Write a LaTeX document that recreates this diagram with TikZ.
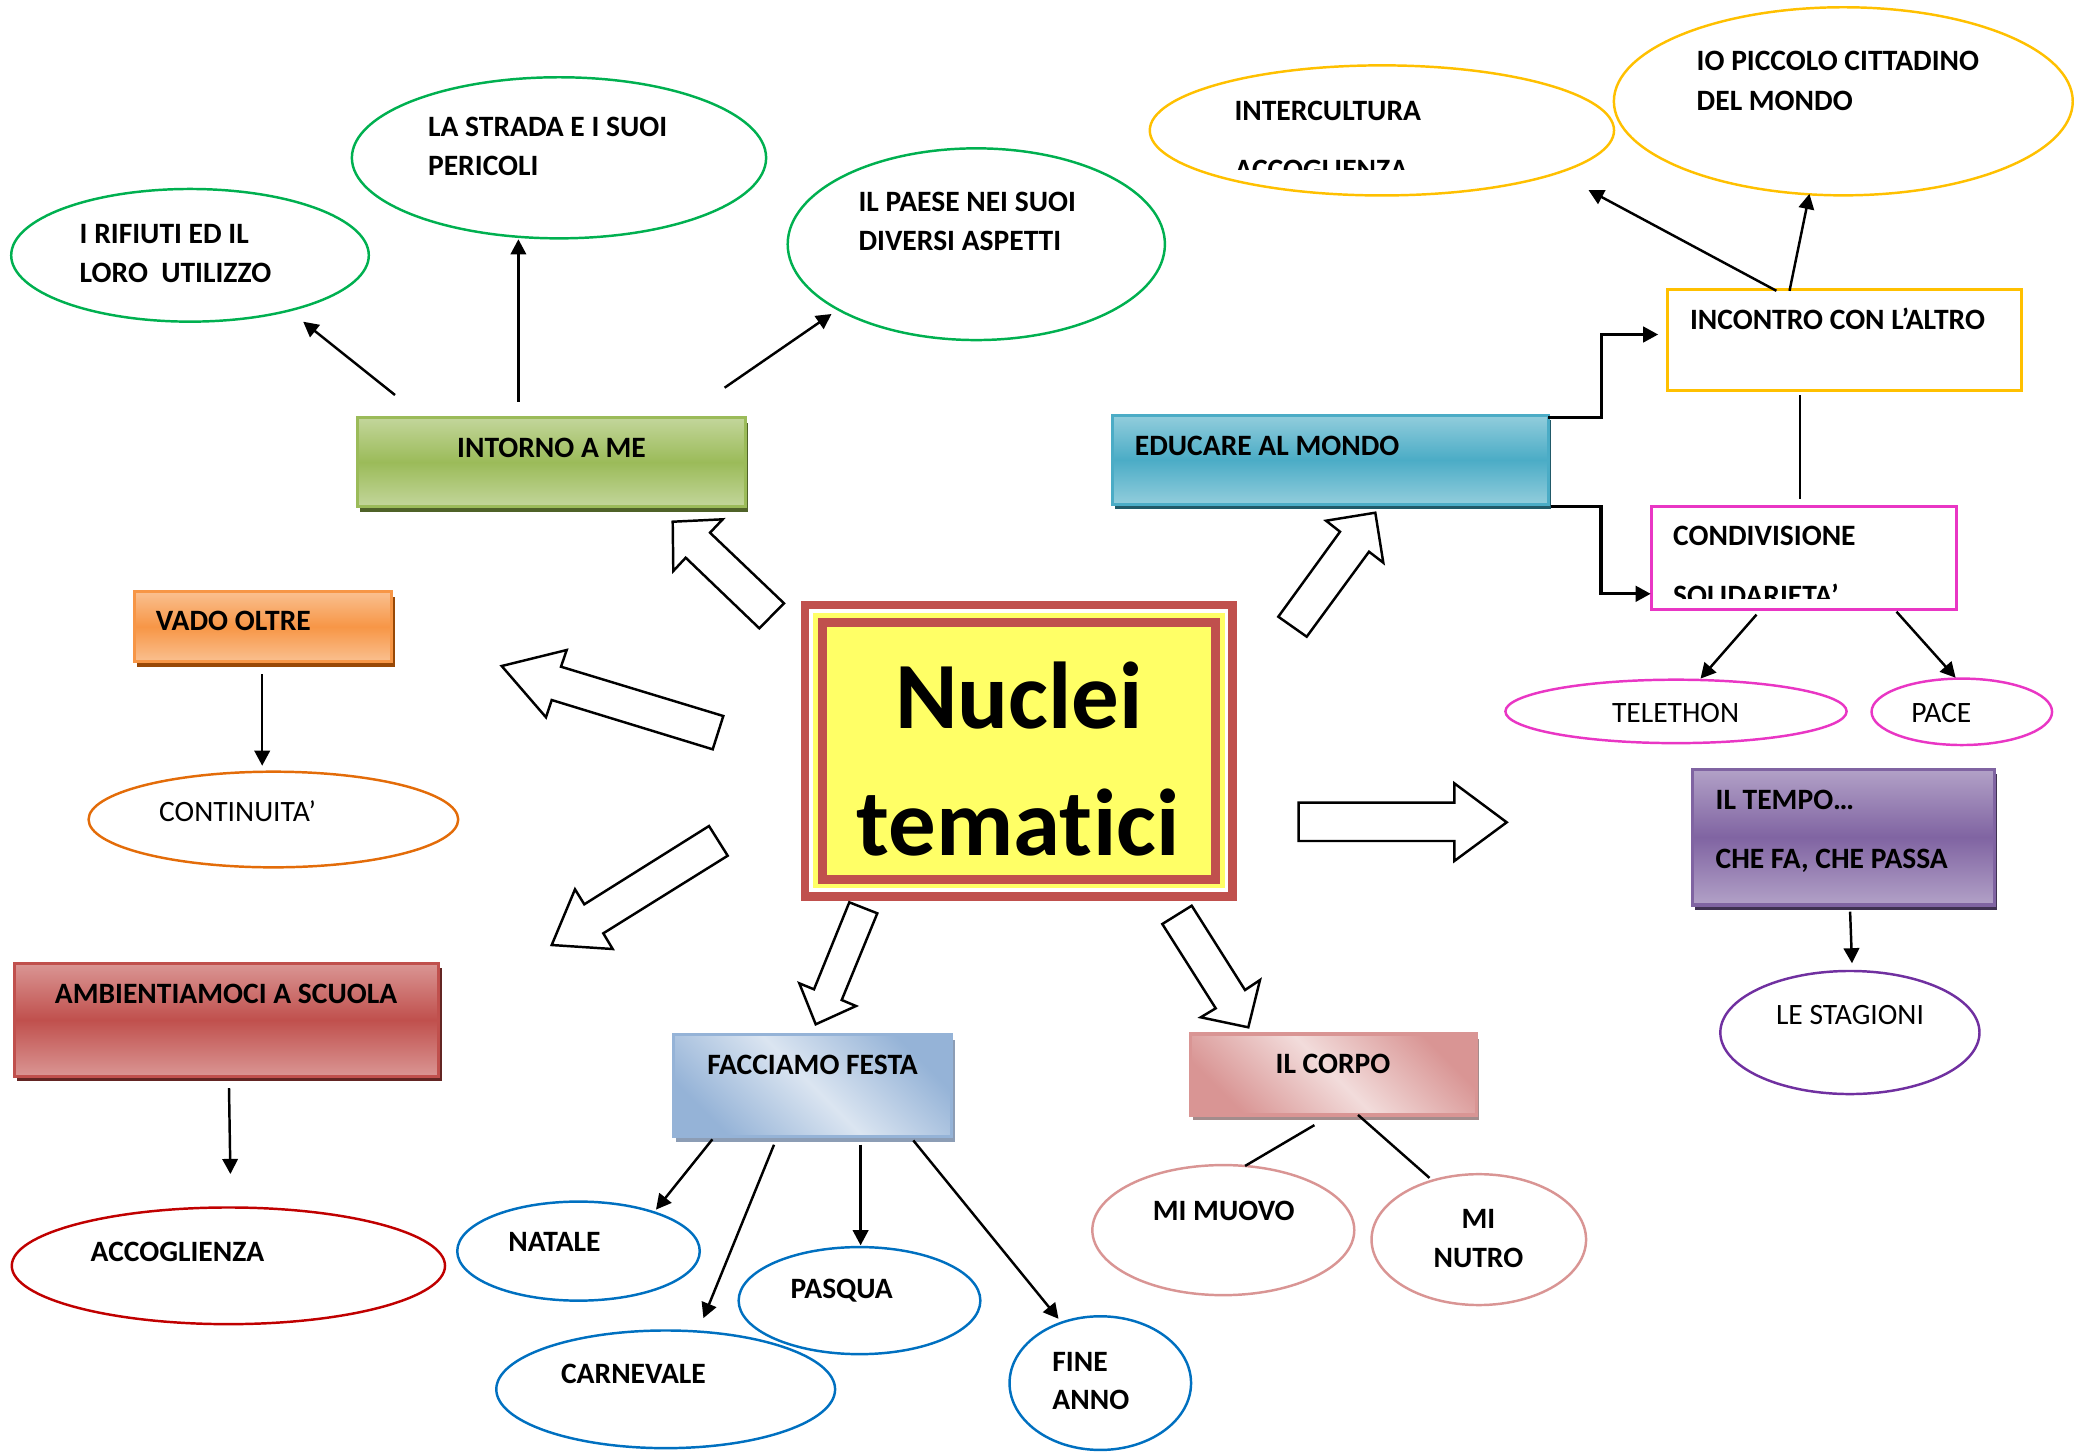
\documentclass[tikz,border=0pt]{standalone}
\usepackage{fontspec}
\setmainfont{Carlito}[Ligatures={NoCommon}]
\usetikzlibrary{arrows.meta,shapes.geometric}
\definecolor{grn}{HTML}{00B050}
\definecolor{gold}{HTML}{FFC000}
\definecolor{mag}{HTML}{E936C4}
\definecolor{org}{HTML}{E36C09}
\definecolor{redE}{HTML}{C00000}
\definecolor{blu}{HTML}{0070C0}
\definecolor{pnk}{HTML}{D99594}
\definecolor{pur}{HTML}{7030A0}
\definecolor{cred}{HTML}{C0504D}
\definecolor{cylw}{HTML}{FFFF66}
\definecolor{gL}{HTML}{C3D69B}\definecolor{gM}{HTML}{9BBB59}\definecolor{gS}{HTML}{4F6228}
\definecolor{oL}{HTML}{FAC090}\definecolor{oM}{HTML}{F79646}\definecolor{oS}{HTML}{984806}
\definecolor{rL}{HTML}{DA9694}\definecolor{rM}{HTML}{C0504D}\definecolor{rS}{HTML}{632523}
\definecolor{bL}{HTML}{DBE5F1}\definecolor{bM}{HTML}{95B3D7}\definecolor{bS}{HTML}{8C9DB5}
\definecolor{pL}{HTML}{F2DCDB}\definecolor{pM}{HTML}{D99594}\definecolor{pS}{HTML}{A38C8C}
\definecolor{tL}{HTML}{92CDDC}\definecolor{tM}{HTML}{4BACC6}\definecolor{tS}{HTML}{215968}
\definecolor{vL}{HTML}{B2A1C7}\definecolor{vM}{HTML}{8064A2}\definecolor{vS}{HTML}{3F3151}
\begin{document}
\begin{tikzpicture}[x=0.01cm,y=-0.01cm,
  ell/.style={ellipse, draw=#1, line width=0.7pt, inner sep=0pt},
  hbox/.style n args={3}{rectangle, inner sep=0pt, draw=#2, line width=0.9pt,
     top color=#1, bottom color=#1, middle color=#2,
     preaction={fill=#3, transform canvas={xshift=0.03cm, yshift=-0.05cm}}},
  dbox/.style n args={3}{rectangle, inner sep=0pt, draw=#2, line width=0.9pt,
     top color=#2, bottom color=#2, middle color=#1, shading angle=-45,
     preaction={fill=#3, transform canvas={xshift=0.03cm, yshift=-0.05cm}}},
  lbl/.style={font=\bfseries\fontsize{8.4}{10}\selectfont, inner sep=0pt, anchor=base west},
  lblc/.style={lbl, anchor=base},
  rlbl/.style={font=\fontsize{8.4}{10}\selectfont, inner sep=0pt, anchor=base},
  conn/.style={line width=0.7pt, -{Triangle[length=4.3pt,width=4.4pt]}},
  bline/.style={line width=0.7pt},
  elb/.style={line width=0.9pt, -{Triangle[length=4.3pt,width=4.4pt]}},
  blk/.style={draw=black, line width=0.7pt, fill=white, line join=miter}]
\useasboundingbox (0,0) rectangle (2076,1451);

% ---------- central box ----------
\node[rectangle, fill=cylw, minimum width=4.19cm, minimum height=2.824cm, inner sep=0pt] (core) at (1018.8,750.5) {};
\draw[white, line width=1.14pt] (811.3,611.3) rectangle (1226.7,889.5);
\draw[cred, line width=2.47pt] (805,605) rectangle (1232.8,896.2);
\draw[cred, line width=2.56pt] (822.8,622.8) rectangle (1215.3,879.2);
\node[font=\bfseries\fontsize{27}{32}\selectfont, inner sep=0pt, anchor=base] (nuc1) at (1019,728.3) {Nuclei};
\node[font=\bfseries\fontsize{27}{32}\selectfont, inner sep=0pt, anchor=base] (nuc2) at (1018,855) {temat\kern0.3pt ici};

% ---------- block arrows ----------
\draw[blk] (672.7,521.7) -- (722.7,519.3) -- (710,532.7) -- (784,603.3) -- (759.3,628.3) -- (685.7,557.7) -- (673.3,571) -- cycle;
\draw[blk] (501.7,666) -- (566.7,650) -- (561,666.7) -- (723.3,716) -- (712.7,749.3) -- (551.7,700) -- (546,717.3) -- cycle;
\draw[blk] (551.7,945) -- (575,889.3) -- (584.3,904.3) -- (709,826) -- (727.7,855.7) -- (603.3,933.3) -- (612.7,949) -- cycle;
\draw[blk] (815.7,1024.3) -- (799.3,983.3) -- (814,989.3) -- (849.3,902.3) -- (877.3,913.3) -- (841.7,1000) -- (856,1006) -- cycle;
\draw[blk] (1248.3,1027.3) -- (1200.7,1017.3) -- (1215.7,1008.3) -- (1162.3,924) -- (1191.7,905.7) -- (1245,990) -- (1260,980) -- cycle;
\draw[blk] (1375.3,512.7) -- (1383.3,562.7) -- (1369,551.7) -- (1306.7,636.7) -- (1278.3,616.7) -- (1340,531.7) -- (1326,520.7) -- cycle;
\draw[blk] (1506.7,822.3) -- (1454.3,861) -- (1454.3,841) -- (1298.7,841) -- (1298.7,802.7) -- (1454.3,802.7) -- (1454.3,783.3) -- cycle;

% ---------- INTORNO A ME ----------
\node[hbox={gL}{gM}{gS}, minimum width=3.876cm, minimum height=0.89cm] (intorno) at (551.2,462.2) {};
\node[lblc] (intornoT) at (551.5,457.7) {INTORNO A ME};
\node[ell=grn, minimum width=3.574cm, minimum height=1.326cm] (rifiuti) at (190,255.3) {};
\node[lbl] (rifiutiA) at (79,243.3) {I RIFIUTI ED IL};
\node[lbl] (rifiutiB) at (79,282.7) {LORO\ \ UTILIZZO};
\node[ell=grn, minimum width=4.14cm, minimum height=1.61cm] (strada) at (559,157.8) {};
\node[lbl] (stradaA) at (427.4,136.7) {LA STRADA E I SUOI};
\node[lbl] (stradaB) at (427.4,175) {PERICOLI};
\node[ell=grn, minimum width=3.77cm, minimum height=1.916cm] (paese) at (976.3,244.2) {};
\node[lbl] (paeseA) at (857.8,211.7) {IL PAESE NEI SUOI};
\node[lbl] (paeseB) at (857.8,250.7) {DIVERSI ASPETTI};
\coordinate (i1) at (395,395); \coordinate (r1) at (303.2,321.7);
\coordinate (i2) at (518.4,401.7); \coordinate (s1) at (518.4,239.3);
\coordinate (i3) at (724.6,387.7); \coordinate (p1) at (831.5,314);
\draw[conn] (i1) -- (r1);
\draw[conn] (i2) -- (s1);
\draw[conn] (i3) -- (p1);

% ---------- VADO OLTRE ----------
\node[hbox={oL}{oM}{oS}, minimum width=2.574cm, minimum height=0.70cm] (vado) at (263,626.7) {};
\node[lbl] (vadoT) at (155.1,630.7) {VADO OLTRE};
\node[ell=org, minimum width=3.694cm, minimum height=0.956cm] (cont) at (273.4,819.5) {};
\node[rlbl, anchor=base west] (contT) at (158.5,821.7) {CONTINUITA’};
\coordinate (v1) at (262.2,674); \coordinate (c1) at (262.2,765.7);
\draw[conn] (v1) -- (c1);

% ---------- AMBIENTIAMOCI ----------
\node[hbox={rL}{rM}{rS}, minimum width=4.242cm, minimum height=1.131cm] (amb) at (226.6,1019.85) {};
\node[lblc] (ambT) at (226,1003.3) {AMBIENTIAMOCI A SCUOLA};
\node[ell=redE, minimum width=4.33cm, minimum height=1.166cm] (accog) at (228.4,1265.8) {};
\node[lbl] (accogT) at (90,1261) {ACCOGLIENZA};
\coordinate (a1) at (229,1088); \coordinate (a2) at (230.4,1174);
\draw[conn] (a1) -- (a2);

% ---------- FACCIAMO FESTA ----------
\node[dbox={bL}{bM}{bS}, minimum width=2.784cm, minimum height=1.019cm] (festa) at (812.5,1085.75) {};
\node[lblc] (festaT) at (812.5,1074.8) {FACCIAMO FESTA};
\node[ell=blu, minimum width=2.424cm, minimum height=0.99cm] (natale) at (578.5,1251.1) {};
\node[lbl] (nataleT) at (507.7,1251.4) {NATALE};
\node[ell=blu, minimum width=3.386cm, minimum height=1.176cm] (carn) at (665.7,1389.3) {};
\node[lbl] (carnT) at (560.4,1383.3) {CARNEVALE};
\node[ell=blu, minimum width=2.416cm, minimum height=1.07cm] (pasqua) at (859.5,1300.6) {};
\node[lbl] (pasquaT) at (789.9,1298.8) {PASQUA};
\node[ell=blu, minimum width=1.814cm, minimum height=1.336cm] (fine) at (1100.3,1383.1) {};
\node[lbl] (fineA) at (1051.7,1371.6) {FINE};
\node[lbl] (fineB) at (1051.7,1409.9) {ANNO};
\coordinate (f1) at (712.4,1139.3); \coordinate (n1) at (656,1209.6);
\coordinate (f2) at (774,1144.7); \coordinate (k1) at (703.4,1318.1);
\coordinate (f3) at (860.6,1144.7); \coordinate (q1) at (860.6,1245.3);
\coordinate (f4) at (913.3,1140.4); \coordinate (e1) at (1058.5,1318.8);
\draw[conn] (f1) -- (n1);
\draw[conn] (f2) -- (k1);
\draw[conn] (f3) -- (q1);
\draw[conn] (f4) -- (e1);

% ---------- IL CORPO ----------
\node[dbox={pL}{pM}{pS}, minimum width=2.859cm, minimum height=0.809cm] (corpo) at (1333.15,1074.45) {};
\node[lblc] (corpoT) at (1333,1073) {IL CORPO};
\node[ell=pnk, minimum width=2.618cm, minimum height=1.30cm] (muovo) at (1223.3,1230.1) {};
\node[lblc] (muovoT) at (1223.7,1220.5) {MI MUOVO};
\node[ell=pnk, minimum width=2.144cm, minimum height=1.308cm] (nutro) at (1478.8,1239.6) {};
\node[lblc] (nutroA) at (1478.4,1228.9) {MI};
\node[lblc] (nutroB) at (1478.4,1267.8) {NUTRO};
\coordinate (o1) at (1314.4,1125.1); \coordinate (m1) at (1245.1,1165.9);
\coordinate (o2) at (1358,1114.9); \coordinate (m2) at (1429.5,1177.9);
\draw[bline] (o1) -- (m1);
\draw[bline] (o2) -- (m2);

% ---------- EDUCARE AL MONDO ----------
\node[hbox={tL}{tM}{tS}, minimum width=4.356cm, minimum height=0.887cm] (edu) at (1330.2,459.75) {};
\node[lbl] (eduT) at (1134.2,455.6) {EDUCARE AL MONDO};
\node[rectangle, draw=gold, line width=0.8pt, minimum width=3.535cm, minimum height=1.008cm, inner sep=0pt] (inc) at (1844.25,340.3) {};
\node[lbl] (incT) at (1689.3,329.6) {INCONTRO CON L’ALTRO};
\node[rectangle, draw=mag, line width=0.8pt, minimum width=3.05cm, minimum height=1.028cm, inner sep=0pt] (cond) at (1803.8,557.9) {};
\node[lbl] (condA) at (1672.5,545.3) {CONDIVISIONE};
\begin{scope}
\clip (1655,560) rectangle (1950,598.6);
\node[lbl] (condB) at (1672.5,605) {SOLIDARIETA’};
\end{scope}
\node[ell=gold, minimum width=4.64cm, minimum height=1.30cm] (inter) at (1381.9,130.4) {};
\node[lbl] (interA) at (1233.8,120.2) {INTERCULTURA};
\begin{scope}
\clip (1160,130) rectangle (1600,169.7);
\node[lbl] (interB) at (1233.8,179) {ACCOGLIENZA};
\end{scope}
\node[ell=gold, minimum width=4.586cm, minimum height=1.88cm] (picc) at (1843.3,101.3) {};
\node[lbl] (piccA) at (1696,70.3) {IO PICCOLO CITTADINO};
\node[lbl] (piccB) at (1696,110.5) {DEL MONDO};
\node[ell=mag, minimum width=3.41cm, minimum height=0.634cm] (tele) at (1676,711.4) {};
\node[rlbl] (teleT) at (1675.6,722.3) {TELETHON};
\node[ell=mag, minimum width=1.804cm, minimum height=0.664cm] (pace) at (1961.8,711.8) {};
\node[rlbl] (paceT) at (1941.3,722) {PACE};
\coordinate (u1) at (1548,417.8); \coordinate (u2) at (1601.6,417.8); \coordinate (u3) at (1601.6,334.5); \coordinate (u4) at (1658.2,334.5);
\coordinate (d1) at (1551,506.5); \coordinate (d2) at (1601,506.5); \coordinate (d3) at (1601,593.8); \coordinate (d4) at (1650.7,593.8);
\draw[elb] (u1) -- (u2) -- (u3) -- (u4);
\draw[elb] (d1) -- (d2) -- (d3) -- (d4);
\coordinate (x1) at (1776.4,290.8); \coordinate (y1) at (1588.5,190);
\coordinate (x2) at (1789.5,290.8); \coordinate (y2) at (1809.4,193.9);
\draw[conn] (x1) -- (y1);
\draw[conn] (x2) -- (y2);
\coordinate (w1) at (1800,395); \coordinate (w2) at (1800,499.3);
\draw[bline] (w1) -- (w2);
\coordinate (z1) at (1756.5,614.6); \coordinate (z2) at (1700.5,678.6);
\coordinate (z3) at (1896.5,611.7); \coordinate (z4) at (1955.6,677.7);
\draw[conn] (z1) -- (z2);
\draw[conn] (z3) -- (z4);

% ---------- IL TEMPO ----------
\node[hbox={vL}{vM}{vS}, minimum width=3.016cm, minimum height=1.357cm] (tempo) at (1843.3,837.15) {};
\node[lbl] (tempoA) at (1714.9,809) {IL TEMPO…};
\node[lbl] (tempoB) at (1714.9,868.3) {CHE FA, CHE PASSA};
\node[ell=pur, minimum width=2.59cm, minimum height=1.23cm] (stag) at (1849.9,1032.5) {};
\node[rlbl] (stagT) at (1850,1024.3) {LE STAGIONI};
\coordinate (h1) at (1850.1,911.7); \coordinate (h2) at (1852,963.3);
\draw[conn] (h1) -- (h2);
\end{tikzpicture}
\end{document}
